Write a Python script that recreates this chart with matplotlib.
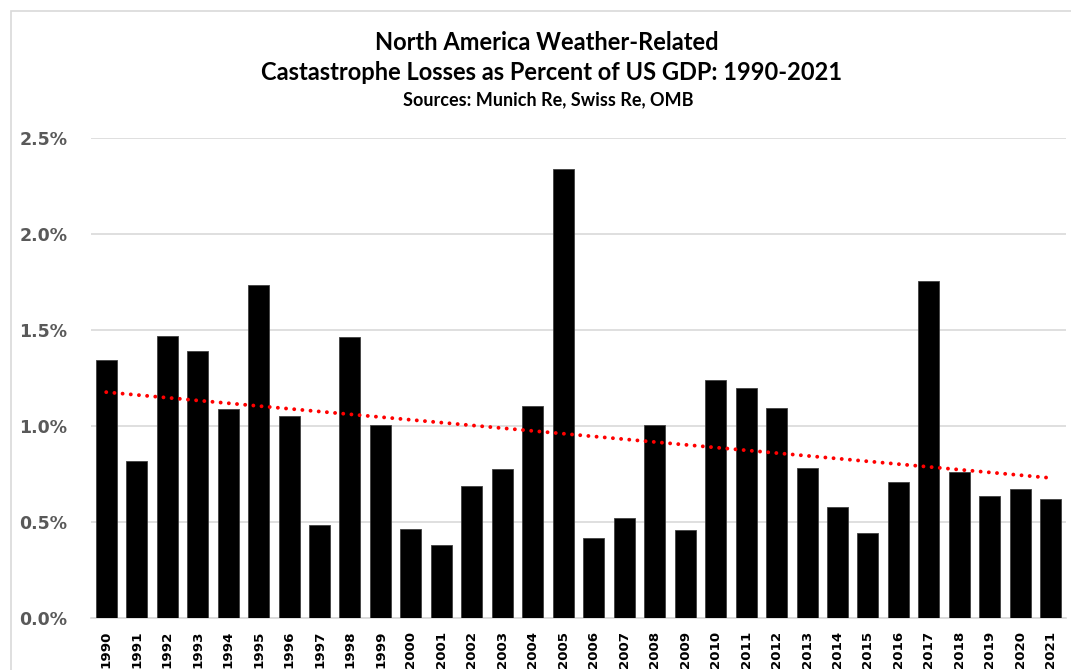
import numpy as np
import matplotlib
matplotlib.use('Agg')
import matplotlib.pyplot as plt
from matplotlib.patches import Rectangle
from matplotlib.ticker import FuncFormatter

# Weather-related cat losses in North America, as % of US GDP
years = list(range(1990, 2022))
loss_pct = [1.344, 0.819, 1.469, 1.391, 1.090, 1.733, 1.054, 0.486, 1.465, 1.007,
            0.462, 0.382, 0.689, 0.774, 1.102, 2.340, 0.415, 0.523, 1.003, 0.457,
            1.238, 1.200, 1.092, 0.783, 0.578, 0.441, 0.708, 1.754, 0.762, 0.637,
            0.673, 0.620]
y_ticks = [0.0, 0.5, 1.0, 1.5, 2.0, 2.5]

title_line1 = 'North America Weather-Related'
title_line2 = 'Castastrophe Losses as Percent of US GDP: 1990-2021'
sources = 'Sources: Munich Re, Swiss Re, OMB'

W, H = 1071, 670
fig = plt.figure(figsize=(W / 100, H / 100), dpi=100)
ax = fig.add_axes([91 / W, 1 - 618 / H, 975 / W, 480 / H])

x = np.arange(len(years))
ax.bar(x, loss_pct, width=0.69, color='black', edgecolor='#404040', linewidth=0.6, zorder=3)

# linear trend line across the whole period
slope, intercept = np.polyfit(x, loss_pct, 1)
ax.plot(x, slope * x + intercept, color='#ff0000', linewidth=2.8,
        linestyle=(0, (0.01, 2.1)), dash_capstyle='round', zorder=4)

ax.set_xlim(-0.5, len(years) - 0.5)
ax.set_ylim(0, 2.5)
ax.set_yticks(y_ticks)
ax.yaxis.set_major_formatter(FuncFormatter(lambda v, p: f'{v:.1f}%'))
ax.grid(axis='y', color='#d9d9d9', linewidth=1.2, zorder=0)
ax.set_axisbelow(True)

ax.set_xticks(x)
ax.set_xticklabels([str(y) for y in years], rotation=90, fontsize=9.6,
                   fontweight='bold', color='black', family='DejaVu Sans')
for lbl in ax.get_yticklabels():
    lbl.set_fontsize(12.5)
    lbl.set_fontweight('bold')
    lbl.set_color('#595959')
ax.tick_params(axis='x', length=0, pad=9)
ax.tick_params(axis='y', length=0, pad=17)

for side in ['top', 'right', 'left']:
    ax.spines[side].set_visible(False)
ax.spines['bottom'].set_color('#d9d9d9')
ax.spines['bottom'].set_linewidth(1.2)

# titles
fig.text(547 / W, 1 - 42 / H, title_line1, ha='center', va='center',
         fontsize=17, fontweight='bold', family='Lato')
fig.text(552 / W, 1 - 73 / H, title_line2, ha='center', va='center',
         fontsize=17, fontweight='bold', family='Lato')
fig.text(548 / W, 1 - 100 / H, sources, ha='center', va='center',
         fontsize=13, fontweight='bold', family='Lato')

# chart frame
fig.add_artist(Rectangle((11 / W, -0.1), 1.2, 1 - 11 / H + 0.1, transform=fig.transFigure,
                         facecolor='none', edgecolor='#d9d9d9', linewidth=1.2))

fig.savefig('out.png', dpi=100)
